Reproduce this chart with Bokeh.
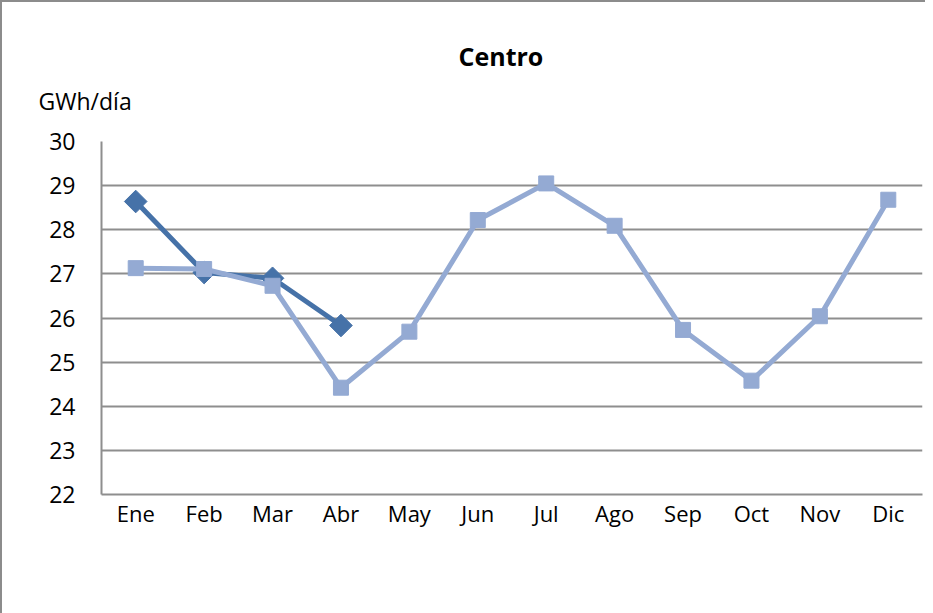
import math
from bokeh.plotting import figure
from bokeh.models import Range1d, FactorRange, Legend, LegendItem, Title, FixedTicker
from bokeh.embed import file_html
from bokeh.resources import INLINE

months = ["Ene", "Feb", "Mar", "Abr", "May", "Jun", "Jul", "Ago", "Sep", "Oct", "Nov", "Dic"]
months_2011 = ["Ene", "Feb", "Mar", "Abr"]
vals_2011 = [28.64, 27.03, 26.90, 25.83]
vals_2010 = [27.13, 27.11, 26.73, 24.42, 25.69, 28.22, 29.05, 28.09, 25.73, 24.58, 26.04, 28.68]
y_ticks = [22, 23, 24, 25, 26, 27, 28, 29, 30]
title_text = "Centro"
unit_text = "GWh/día"

FONT = "Open Sans"
C2011 = "#4672a8"
C2010 = "#94aad3"
GRID = "#8e8e8e"

p = figure(frame_width=821, frame_height=353, x_range=FactorRange(*months, range_padding=0),
           y_range=Range1d(22, 30), output_backend="svg", toolbar_location=None,
           min_border_left=99, min_border_right=3, min_border_top=139, min_border_bottom=0)
p.styles = {"border-left": "2px solid #8c8c8c", "border-top": "2px solid #8c8c8c"}

p.title.text = title_text
p.title.text_font = FONT
p.title.text_font_size = "25px"
p.title.text_font_style = "bold"
p.title.text_color = "#000000"
p.title.align = "left"
p.title.offset = 357
p.title.standoff = -30

unit = Title(text=unit_text, align="left", offset=-63, text_font=FONT, text_font_size="23px",
             text_font_style="normal", text_color="#000000", standoff=50)
p.add_layout(unit, "above")

p.outline_line_color = None
p.xgrid.grid_line_color = None
p.ygrid.grid_line_color = GRID
p.ygrid.grid_line_width = 2
p.yaxis.ticker = FixedTicker(ticks=y_ticks)
p.yaxis.axis_line_color = GRID
p.yaxis.axis_line_width = 2
p.yaxis.major_tick_line_color = None
p.yaxis.major_tick_out = 0
p.yaxis.minor_tick_line_color = None
p.yaxis.major_label_text_font = FONT
p.yaxis.major_label_text_font_size = "23px"
p.yaxis.major_label_text_color = "#000000"
p.yaxis.major_label_standoff = 26
p.xaxis.axis_line_color = GRID
p.xaxis.axis_line_width = 2
p.xaxis.major_tick_line_color = None
p.xaxis.major_tick_out = 0
p.xaxis.minor_tick_line_color = None
p.xaxis.major_label_text_font = FONT
p.xaxis.major_label_text_font_size = "22px"
p.xaxis.major_label_text_color = "#000000"
p.xaxis.major_label_standoff = 3

l11 = p.line(months_2011, vals_2011, line_color=C2011, line_width=5)
m11 = p.scatter(months_2011, vals_2011, marker="square", angle=math.pi / 4, size=16,
                fill_color=C2011, line_color=C2011)
l10 = p.line(months, vals_2010, line_color=C2010, line_width=5)
m10 = p.scatter(months, vals_2010, marker="square", size=15, fill_color=C2010, line_color=C2010)

legend = Legend(items=[LegendItem(label="2011", renderers=[l11, m11]),
                       LegendItem(label="2010", renderers=[l10, m10])],
                orientation="horizontal", location="center", border_line_color=None,
                background_fill_alpha=0, label_text_color="#000000",
                label_text_font=FONT, label_text_font_size="20px", glyph_width=55,
                glyph_height=20, spacing=50, label_standoff=5, padding=0, margin=0)
p.add_layout(legend, "below")

open("out.html", "w").write(file_html(p, INLINE))
